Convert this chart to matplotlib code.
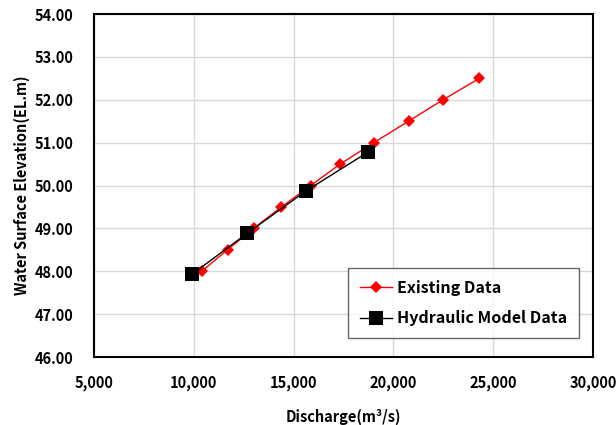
import matplotlib
matplotlib.use('Agg')
import matplotlib.pyplot as plt
from matplotlib.ticker import FuncFormatter

# Rating curve data
existing_q = [10390, 11690, 13000, 14390, 15860, 17330, 19020, 20760, 22490, 24310]
existing_wl = [48.0, 48.5, 49.0, 49.5, 50.0, 50.5, 51.0, 51.5, 52.0, 52.5]

model_q = [9910, 12690, 15610, 18730]
model_wl = [47.93, 48.89, 49.87, 50.78]

plt.rcParams['font.family'] = ['Noto Sans CJK KR', 'DejaVu Sans']
plt.rcParams['font.weight'] = 'bold'

fig = plt.figure(figsize=(6.16, 4.25), dpi=100)
ax = fig.add_axes([0.1526, 0.16, 0.810, 0.807])

ax.plot(existing_q, existing_wl, color='#ff0000', lw=1.0, marker='D',
        markersize=6.5, markeredgewidth=0, label='Existing Data', zorder=3)
ax.plot(model_q, model_wl, color='black', lw=1.0, marker='s',
        markersize=10, markeredgewidth=0, label='Hydraulic Model Data', zorder=4)

ax.set_xlim(5000, 30000)
ax.set_ylim(46, 54)
ax.set_xticks(range(5000, 30001, 5000))
ax.set_yticks([46 + i for i in range(9)])
ax.xaxis.set_major_formatter(FuncFormatter(lambda v, p: f'{int(v):,}'))
ax.yaxis.set_major_formatter(FuncFormatter(lambda v, p: f'{v:.2f}'))

ax.grid(True, color='#d9d9d9', lw=1.0)
ax.set_axisbelow(True)
ax.tick_params(length=0, labelsize=10.5)
ax.tick_params(axis='x', pad=13)
ax.tick_params(axis='y', pad=15)
for lab in ax.get_xticklabels() + ax.get_yticklabels():
    lab.set_fontweight('bold')
for s in ax.spines.values():
    s.set_linewidth(1.5)
    s.set_color('black')

ax.set_xlabel('Discharge(m³/s)', fontsize=10.5, fontweight='bold', labelpad=13)
ax.set_ylabel('Water Surface Elevation(EL.m)', fontsize=10.5, fontweight='bold', labelpad=3)

leg = ax.legend(loc='lower right', bbox_to_anchor=(0.972, 0.055),
                borderaxespad=0, frameon=True, fancybox=False, edgecolor='#404040',
                borderpad=0.75, labelspacing=0.9, handlelength=2.0,
                handletextpad=0.3, prop={'weight': 'bold', 'size': 11.5})
leg.get_frame().set_linewidth(1.0)

fig.savefig('out.png', dpi=100)
